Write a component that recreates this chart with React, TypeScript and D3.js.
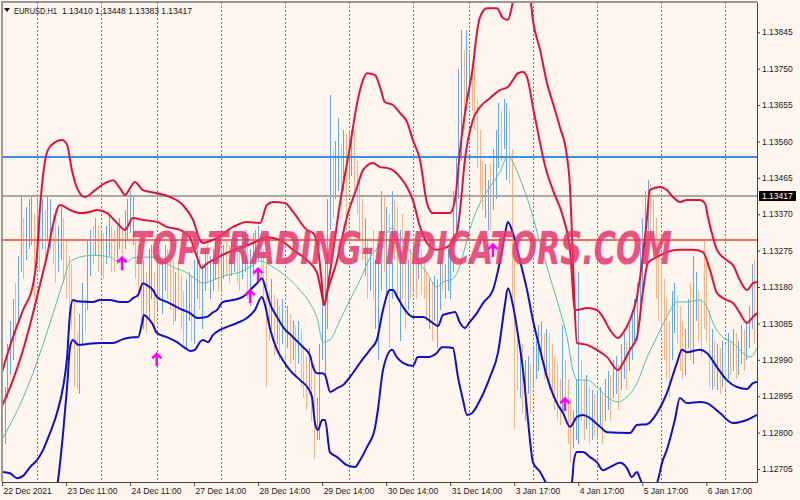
import React, { useEffect, useRef } from "react";
import * as d3 from "d3";

type Pt = [number, number];

// EURUSD H1 bars, one per hour, 22 Dec 2021 11:00 onwards
const barHigh: number[] = [
  // 22 Dec
  1.1289, 1.1292, 1.1303, 1.1309, 1.1315, 1.1319, 1.1326, 1.1342, 1.1336, 1.1339, 1.1341, 1.1342, 1.1337,
  // 23 Dec
  1.1341, 1.1337, 1.1341, 1.1338, 1.1342, 1.1341, 1.1337, 1.1338, 1.1334, 1.1339, 1.1336, 1.133, 1.1326, 1.1324, 1.1315, 1.1306, 1.1311, 1.1319, 1.1315, 1.133, 1.1333, 1.1334, 1.1336, 1.1334,
  // 24 Dec
  1.1333, 1.1332, 1.1334, 1.1337, 1.1334, 1.1333, 1.1334, 1.1336, 1.1333, 1.1338, 1.1341, 1.1343, 1.1342, 1.1333, 1.1329, 1.1326, 1.1325, 1.1322, 1.1328, 1.1329, 1.1322,
  // 27 Dec
  1.1326, 1.1328, 1.1325, 1.1329, 1.1328, 1.1326, 1.1325, 1.1322, 1.1325, 1.1321, 1.1317, 1.132, 1.1322, 1.1321, 1.1325, 1.1328, 1.1326, 1.1324, 1.1328, 1.1329, 1.1326, 1.1328, 1.133, 1.1329,
  // 28 Dec
  1.1328, 1.1329, 1.133, 1.1329, 1.133, 1.1332, 1.133, 1.1329, 1.1332, 1.1333, 1.133, 1.1328, 1.1332, 1.1333, 1.1334, 1.1333, 1.1328, 1.1324, 1.1317, 1.132, 1.1316, 1.1315, 1.1313, 1.1315,
  // 29 Dec
  1.1312, 1.1313, 1.1311, 1.1309, 1.1308, 1.1309, 1.1307, 1.1303, 1.13, 1.1302, 1.1299, 1.1298, 1.1289, 1.1303, 1.1315, 1.1325, 1.1341, 1.1368, 1.1354, 1.1356, 1.1362, 1.1355, 1.1359, 1.1358,
  // 30 Dec
  1.1359, 1.1359, 1.1359, 1.1351, 1.1347, 1.1341, 1.1336, 1.133, 1.1328, 1.1333, 1.1325, 1.1328, 1.1343, 1.1342, 1.1339, 1.1337, 1.1343, 1.1341, 1.1339, 1.1333, 1.1337, 1.133, 1.1325, 1.1328,
  // 31 Dec
  1.1329, 1.1326, 1.133, 1.1328, 1.1325, 1.1322, 1.132, 1.1319, 1.1321, 1.132, 1.1325, 1.1329, 1.1324, 1.1328, 1.133, 1.1343, 1.1352, 1.1375, 1.1385, 1.138, 1.1385,
  // 3 Jan
  1.1379, 1.1377, 1.1376, 1.1367, 1.1359, 1.1351, 1.135, 1.1346, 1.135, 1.1354, 1.1359, 1.1366, 1.1364, 1.1367, 1.1366, 1.1364, 1.1354, 1.1325, 1.1307, 1.1302, 1.1303, 1.1299, 1.13, 1.1298,
  // 4 Jan
  1.1302, 1.1304, 1.1308, 1.1309, 1.1306, 1.1307, 1.1306, 1.1303, 1.13, 1.1298, 1.1294, 1.1308, 1.1299, 1.1294, 1.1289, 1.1286, 1.1294, 1.1322, 1.1299, 1.1294, 1.1295, 1.1292, 1.1291, 1.129,
  // 5 Jan
  1.1291, 1.1292, 1.129, 1.1294, 1.1296, 1.1295, 1.1299, 1.13, 1.1298, 1.1303, 1.1306, 1.1304, 1.1308, 1.1312, 1.1315, 1.1319, 1.1328, 1.1336, 1.1343, 1.1346, 1.1345, 1.1341, 1.1336, 1.133,
  // 6 Jan
  1.1325, 1.132, 1.1315, 1.1309, 1.1317, 1.1319, 1.1316, 1.1313, 1.1309, 1.1307, 1.1315, 1.1319, 1.1326, 1.1322, 1.1317, 1.1315, 1.133, 1.1325, 1.1312, 1.1307, 1.1304, 1.1303, 1.1302, 1.1304,
  // 7 Jan
  1.1303, 1.1306, 1.1304, 1.1307, 1.1306, 1.1304, 1.1308, 1.1307, 1.1309, 1.1313, 1.1324, 1.1325,
];

const barLow: number[] = [
  1.127, 1.1277, 1.1289, 1.1295, 1.1299, 1.1304, 1.1309, 1.1322, 1.132, 1.1325, 1.1328, 1.1329, 1.1315,
  1.1325, 1.1322, 1.1328, 1.1324, 1.133, 1.1328, 1.1324, 1.1319, 1.1322, 1.1325, 1.1319, 1.1315, 1.1312, 1.1307, 1.1292, 1.1291, 1.129, 1.1303, 1.1306, 1.1312, 1.1321, 1.1324, 1.1326, 1.1322,
  1.1321, 1.132, 1.1324, 1.1326, 1.1322, 1.1322, 1.1324, 1.1328, 1.1326, 1.1328, 1.133, 1.1332, 1.1329, 1.132, 1.1315, 1.1309, 1.1307, 1.1306, 1.1309, 1.1315, 1.1306,
  1.1312, 1.1315, 1.1311, 1.1317, 1.1315, 1.1312, 1.1308, 1.1309, 1.1312, 1.1307, 1.1303, 1.1302, 1.1309, 1.1304, 1.1303, 1.1315, 1.1312, 1.1307, 1.1317, 1.1319, 1.1315, 1.1317, 1.132, 1.1317,
  1.1317, 1.132, 1.1321, 1.1319, 1.1321, 1.1322, 1.1319, 1.1317, 1.132, 1.1322, 1.1315, 1.1313, 1.1321, 1.1324, 1.1325, 1.1321, 1.1315, 1.1292, 1.1304, 1.1307, 1.13, 1.1303, 1.1299, 1.1303,
  1.1299, 1.1302, 1.1298, 1.1299, 1.1295, 1.1298, 1.1292, 1.1289, 1.1286, 1.129, 1.1283, 1.1273, 1.1278, 1.1278, 1.1299, 1.1295, 1.1307, 1.1333, 1.1336, 1.1341, 1.1343, 1.1338, 1.1343, 1.1333,
  1.1346, 1.1347, 1.1343, 1.1337, 1.133, 1.1325, 1.1321, 1.1315, 1.1317, 1.1315, 1.1307, 1.1299, 1.1317, 1.1322, 1.1315, 1.1302, 1.1315, 1.1325, 1.1315, 1.1304, 1.1315, 1.1307, 1.1312, 1.1315,
  1.1317, 1.1315, 1.132, 1.1316, 1.1315, 1.1309, 1.1307, 1.1304, 1.1309, 1.1302, 1.1312, 1.1317, 1.1315, 1.1317, 1.1315, 1.1322, 1.1333, 1.1341, 1.1351, 1.1359, 1.1364,
  1.1367, 1.1364, 1.1359, 1.1349, 1.1341, 1.1338, 1.1336, 1.1333, 1.1333, 1.1338, 1.1341, 1.1349, 1.1351, 1.1354, 1.1346, 1.1345, 1.1315, 1.1281, 1.1291, 1.1289, 1.1285, 1.1283, 1.129, 1.1285,
  1.1292, 1.1294, 1.1296, 1.1299, 1.1294, 1.1296, 1.1291, 1.1289, 1.1286, 1.1283, 1.1282, 1.1286, 1.1289, 1.1277, 1.1272, 1.1276, 1.1278, 1.1277, 1.1283, 1.1278, 1.1281, 1.1277, 1.1278, 1.1279,
  1.1278, 1.1282, 1.1277, 1.1283, 1.1286, 1.1283, 1.1289, 1.129, 1.1286, 1.1291, 1.1294, 1.1291, 1.1296, 1.1299, 1.1303, 1.1304, 1.1309, 1.1317, 1.1325, 1.1333, 1.133, 1.1325, 1.1315, 1.1309,
  1.1307, 1.1299, 1.1294, 1.1289, 1.1299, 1.1306, 1.1303, 1.1296, 1.1294, 1.1295, 1.1302, 1.1299, 1.1298, 1.1309, 1.1304, 1.13, 1.1307, 1.1304, 1.1292, 1.1291, 1.1292, 1.1291, 1.129, 1.1292,
  1.1291, 1.1294, 1.1295, 1.1296, 1.1294, 1.1295, 1.1298, 1.1296, 1.1299, 1.1302, 1.1307, 1.1303,
];

// 1 = bull bar, 0 = bear bar
const barUp: number[] = [
  1, 1, 1, 1, 1, 0, 1, 1, 0, 1, 1, 1, 0,
  1, 0, 1, 0, 1, 1, 0, 0, 1, 1, 0, 0, 0, 0, 0, 0, 1, 1, 0, 1, 1, 0, 1, 0,
  1, 0, 1, 1, 0, 0, 1, 1, 0, 1, 1, 1, 1, 0, 0, 0, 1, 0, 1, 1, 0,
  1, 0, 1, 1, 0, 0, 0, 1, 0, 0, 0, 1, 1, 0, 1, 1, 0, 1, 1, 0, 1, 1, 1, 0,
  1, 1, 0, 0, 1, 1, 0, 0, 1, 1, 0, 1, 1, 1, 1, 0, 0, 0, 0, 1, 0, 1, 0, 1,
  0, 1, 0, 1, 0, 1, 0, 0, 0, 1, 0, 0, 1, 1, 1, 1, 1, 1, 0, 1, 1, 0, 1, 0,
  1, 1, 0, 0, 0, 0, 1, 0, 1, 0, 1, 1, 1, 0, 1, 0, 1, 0, 0, 1, 0, 0, 1, 0,
  1, 0, 1, 0, 0, 0, 1, 0, 1, 1, 1, 0, 1, 1, 1, 1, 1, 1, 1, 0, 1,
  1, 0, 0, 0, 0, 0, 1, 1, 0, 1, 1, 1, 0, 1, 1, 0, 0, 0, 0, 1, 0, 1, 1, 0,
  1, 1, 1, 1, 0, 1, 0, 0, 0, 0, 0, 1, 0, 0, 0, 1, 1, 1, 0, 0, 1, 0, 1, 0,
  1, 1, 0, 1, 1, 0, 1, 1, 0, 1, 1, 0, 1, 1, 1, 1, 1, 1, 1, 1, 0, 0, 0, 0,
  0, 0, 0, 0, 1, 1, 0, 0, 0, 1, 1, 0, 1, 1, 0, 0, 0, 0, 0, 1, 0, 1, 0, 1,
  0, 1, 0, 1, 0, 1, 1, 0, 1, 1, 1, 0,
];

// band lines as [bar index, price]
const redOuter: Pt[] = [
  [0, 1.12958], [4.1, 1.13049], [7.9, 1.1312], [11.6, 1.13185], [13.1, 1.13263], [14.2, 1.13381], [15.4, 1.13472], [17.2, 1.13538],
  [19.9, 1.13558], [22.5, 1.13564], [24.4, 1.13551], [26.2, 1.13485], [28.5, 1.13433], [31.1, 1.13415], [34.9, 1.13433], [38.6, 1.13451],
  [41.6, 1.13459], [44.2, 1.13438], [46.1, 1.1342], [48, 1.13438], [49.8, 1.13454], [52.8, 1.13433], [58.1, 1.13425], [63, 1.13415],
  [67.8, 1.13394], [71.6, 1.13355], [74.2, 1.13303], [75.3, 1.13295], [78, 1.133], [80.6, 1.13308], [86.6, 1.13337], [91.8, 1.1335],
  [96.7, 1.13347], [99.3, 1.13394], [101.6, 1.13402], [106.1, 1.13399], [109.1, 1.13376], [114.3, 1.13329], [116.6, 1.13321], [118.4, 1.13282],
  [119.6, 1.13211], [120.7, 1.13133], [122.9, 1.13217], [126.7, 1.13399], [130.4, 1.13545], [133.1, 1.1366], [135.3, 1.1372], [136.8, 1.13738],
  [139.8, 1.13733], [141.7, 1.13702], [143.5, 1.13663], [146.5, 1.13655], [149.2, 1.13634], [151.8, 1.13611], [154, 1.13564], [156.7, 1.13511],
  [159.3, 1.13399], [161.5, 1.13373], [167.9, 1.13373], [169.8, 1.13407], [171.7, 1.13538], [174.3, 1.13668], [176.5, 1.13754], [178, 1.13843],
  [179.2, 1.13885], [181.8, 1.13908], [185.5, 1.13908], [187.8, 1.13882], [189.6, 1.13877], [191.1, 1.13911], [192.5, 1.13968], [195.5, 1.13994],
  [197.9, 1.13942], [199, 1.13877], [201.7, 1.13799], [204.3, 1.13712], [206.5, 1.1366], [209.1, 1.13598], [211.8, 1.13519], [212.9, 1.13441],
  [213.6, 1.13329], [214.4, 1.13172], [215.5, 1.13034], [219.3, 1.13029], [223, 1.13016], [226.8, 1.12997], [230.9, 1.12963], [232.8, 1.12982],
  [235.4, 1.13016], [238, 1.13049], [240.3, 1.13172], [242.1, 1.13243], [245.4, 1.13258], [249.2, 1.13271], [254.1, 1.13277], [259, 1.13277],
  [262.7, 1.13271], [265.4, 1.13224], [268, 1.13164], [271.7, 1.13146], [274, 1.13138], [276.6, 1.13112], [279.2, 1.13086], [281.5, 1.13102],
  [283, 1.13112],
];

const redInner: Pt[] = [
  [0, 1.12869], [4.1, 1.12937], [6.7, 1.12989], [10.5, 1.13081], [14.2, 1.13185], [16.9, 1.13263], [19.1, 1.13342], [21.7, 1.13394],
  [25.5, 1.13381], [29.2, 1.13373], [33, 1.13376], [35.6, 1.13381], [39.4, 1.13373], [43.1, 1.13347], [46.1, 1.13329], [49.1, 1.1336],
  [52.8, 1.13355], [58.1, 1.1335], [61.8, 1.13337], [66.7, 1.13329], [70.5, 1.13308], [73.1, 1.13258], [75, 1.13229], [76.1, 1.13237],
  [79.1, 1.1325], [84.3, 1.13269], [89.2, 1.13282], [94.1, 1.13295], [96.7, 1.13303], [99.3, 1.1331], [104.2, 1.13303], [109.1, 1.13277],
  [115.4, 1.13243], [118.1, 1.13217], [119.9, 1.13159], [120.7, 1.13133], [121.8, 1.13164], [125.6, 1.1325], [129.3, 1.13363], [133.1, 1.13441],
  [135.3, 1.13485], [139, 1.13504], [141.7, 1.13493], [144.3, 1.13491], [146.5, 1.13485], [149.2, 1.13467], [151.8, 1.13441], [154, 1.13407],
  [156.7, 1.13337], [159.3, 1.13295], [163, 1.13277], [166.8, 1.13284], [170.5, 1.13321], [171.7, 1.13381], [173.5, 1.13511], [176.5, 1.13616],
  [179.2, 1.1365], [182.9, 1.13673], [186.6, 1.13694], [189.6, 1.13702], [191.5, 1.1372], [193.4, 1.13738], [195.3, 1.13741], [196.8, 1.13728],
  [197.9, 1.13694], [199, 1.1365], [200.5, 1.13598], [201.7, 1.13556], [203.5, 1.13498], [206.5, 1.13433], [210.3, 1.13363], [212.9, 1.13277],
  [214.8, 1.1312], [215.5, 1.1312], [219.3, 1.13125], [223, 1.1312], [225.2, 1.13102], [227.9, 1.13068], [230.9, 1.13047], [232.8, 1.1306],
  [235.4, 1.13094], [238, 1.13154], [239.9, 1.13243], [241.8, 1.13363], [242.8, 1.13433], [246.6, 1.13441], [249.2, 1.13433], [251.5, 1.13415],
  [254.1, 1.13402], [256.7, 1.13407], [261.6, 1.13407], [263.5, 1.13399], [264.6, 1.13363], [266.5, 1.1331], [268, 1.13277], [271.7, 1.1325],
  [274, 1.13237], [276.6, 1.13198], [279.2, 1.13172], [281.5, 1.1319], [283, 1.13193],
];

const midLine: Pt[] = [
  [0, 1.12783], [3, 1.1282], [6.7, 1.12872], [11.6, 1.12955], [18, 1.13086], [22.9, 1.13193], [25.5, 1.13245], [29.2, 1.13258],
  [34.1, 1.13263], [40.5, 1.13258], [44.2, 1.13245], [46.8, 1.13245], [49.1, 1.13256], [51.7, 1.13258], [56.6, 1.13258], [59.2, 1.1325],
  [64.1, 1.13232], [69.3, 1.13217], [73.1, 1.13198], [75.3, 1.1319], [79.1, 1.13198], [84.3, 1.13211], [89.2, 1.13219], [94.1, 1.13237],
  [96.7, 1.13248], [101.6, 1.13232], [106.8, 1.13206], [111.7, 1.13172], [115.4, 1.13138], [118.1, 1.13099], [120.3, 1.13036], [122.9, 1.13042],
  [126.7, 1.13094], [130.4, 1.13146], [134.2, 1.13198], [137.9, 1.13256], [141.7, 1.1329], [144.3, 1.13321], [146.2, 1.13334], [148, 1.13324],
  [151.8, 1.13284], [155.5, 1.1325], [159.3, 1.13217], [163, 1.1318], [165.3, 1.13193], [169, 1.13201], [171.7, 1.13237], [173.5, 1.13282],
  [175.4, 1.13331], [179.2, 1.13399], [182.9, 1.13441], [186.6, 1.1348], [189.6, 1.13522], [191.5, 1.13506], [194.1, 1.13464], [197.9, 1.13389],
  [201.7, 1.13295], [205.4, 1.13206], [209.1, 1.1312], [211.8, 1.13049], [214, 1.12963], [215.5, 1.12937], [219.3, 1.12937], [223, 1.12919],
  [226.8, 1.12893], [230.9, 1.1288], [234.2, 1.12893], [238, 1.12929], [241.8, 1.12997], [245.4, 1.13049], [249.2, 1.13102], [253, 1.13141],
  [256.7, 1.13141], [261.6, 1.13146], [264.2, 1.13128], [266.5, 1.13086], [270.2, 1.13049], [274, 1.13034], [277.7, 1.13008], [280.4, 1.12997],
  [283, 1.13021],
];

const blueInner: Pt[] = [
  [0, 1.12697], [3, 1.12694], [5.6, 1.12681], [7.9, 1.12687], [10.5, 1.1271], [13.1, 1.12728], [15.4, 1.12755], [18, 1.12799],
  [20.6, 1.12851], [22.9, 1.12919], [24.4, 1.12997], [25.5, 1.13112], [26.6, 1.13146], [28.1, 1.13143], [34.1, 1.13141], [36.7, 1.13146],
  [40.5, 1.13146], [44.2, 1.13141], [47.2, 1.13141], [49.1, 1.13151], [51, 1.13159], [52.8, 1.1319], [54.3, 1.13185], [56.6, 1.13172],
  [58.1, 1.13154], [61.8, 1.13141], [64.1, 1.13133], [67.8, 1.1312], [70.5, 1.13112], [73.1, 1.13099], [76.8, 1.13102], [78.7, 1.13112],
  [80.6, 1.1312], [82.8, 1.13141], [86.6, 1.13146], [90.3, 1.13154], [93, 1.13172], [95.6, 1.1319], [97.4, 1.13203], [99.3, 1.13164],
  [100.4, 1.13138], [103.1, 1.13102], [105.3, 1.13076], [109.1, 1.13049], [112.8, 1.13023], [115.4, 1.13002], [116.6, 1.12971], [118.1, 1.12955],
  [120, 1.12955], [121.1, 1.1295], [123, 1.12906], [125.6, 1.12916], [127.8, 1.12924], [130.4, 1.12945], [134.2, 1.12982], [137.9, 1.13016],
  [140.5, 1.13042], [142.8, 1.1312], [145.4, 1.13172], [146.5, 1.13172], [148.4, 1.13151], [150.3, 1.13128], [154, 1.13102], [157.8, 1.13102],
  [161.5, 1.13086], [163.4, 1.13078], [165.3, 1.13107], [167.9, 1.13112], [169.8, 1.13115], [171.7, 1.13086], [173.5, 1.13073], [175.4, 1.13089],
  [178, 1.13112], [180.3, 1.13138], [184, 1.13172], [186.6, 1.13245], [188.5, 1.13316], [189.6, 1.1335], [191.5, 1.13321], [194.1, 1.1325],
  [196.8, 1.13172], [199, 1.13094], [201.7, 1.13016], [204.3, 1.12945], [208, 1.12877], [210.3, 1.12851], [212.9, 1.12815], [215.5, 1.12841],
  [217.8, 1.12846], [220.4, 1.12838], [224.2, 1.12815], [226.8, 1.12801], [235.4, 1.12799], [238, 1.1282], [241.8, 1.12822], [245.5, 1.12851],
  [249.2, 1.12903], [253, 1.12982], [254.9, 1.13016], [256.7, 1.1301], [261.6, 1.13016], [264.2, 1.13008], [268, 1.12971], [271.7, 1.12937],
  [275.5, 1.12919], [279.2, 1.12914], [281.5, 1.12929], [283, 1.12932],
];

const blueOuter: Pt[] = [
  [14.2, 1.12467], [18.7, 1.12611], [21, 1.12676], [22.9, 1.12799], [24.4, 1.12919], [25.5, 1.13023], [26.6, 1.13042], [28.5, 1.13029],
  [31.9, 1.13031], [36.7, 1.13034], [41.6, 1.13034], [45.4, 1.13044], [49.1, 1.13049], [51, 1.13049], [52.5, 1.13086], [53.2, 1.13107],
  [54.3, 1.13102], [56.2, 1.13086], [58.1, 1.1306], [61.8, 1.13049], [65.6, 1.13036], [68.6, 1.13021], [70.5, 1.13013], [72.3, 1.13016],
  [74.2, 1.13036], [75.3, 1.13042], [77.2, 1.13036], [79.1, 1.13055], [81.7, 1.13068], [84.3, 1.13076], [88.1, 1.13086], [91.8, 1.13099],
  [94.8, 1.1312], [97.4, 1.13154], [98.6, 1.13133], [100.4, 1.13073], [103.1, 1.13016], [105.3, 1.12989], [107.9, 1.12963], [111.7, 1.12937],
  [114.7, 1.12916], [116.2, 1.12893], [117.3, 1.12825], [118.4, 1.12807], [120, 1.12833], [121.1, 1.12833], [122.9, 1.12749], [125.6, 1.12736],
  [129.3, 1.12715], [132.3, 1.1271], [134.2, 1.12728], [136.8, 1.12762], [139.8, 1.12812], [140.9, 1.12859], [142.8, 1.12963], [146.2, 1.13016],
  [148, 1.12997], [150.3, 1.12982], [154, 1.12974], [155.9, 1.12997], [159.3, 1.12997], [163, 1.13008], [164.9, 1.13023], [166.8, 1.13023],
  [169, 1.13021], [170.9, 1.12945], [172.8, 1.12885], [174.3, 1.12846], [176.2, 1.12851], [179.2, 1.12885], [182.9, 1.12945], [185.9, 1.13008],
  [188.5, 1.13133], [189.6, 1.13177], [191.5, 1.13133], [193.4, 1.13055], [195.3, 1.12963], [196.8, 1.12859], [197.9, 1.12781], [199, 1.12723],
  [201.7, 1.12697], [204.3, 1.12663], [207.3, 1.12624], [211, 1.12624], [213.6, 1.12668], [214.4, 1.12728], [215.5, 1.12749], [217.8, 1.12749],
  [220.4, 1.12736], [223, 1.12723], [225.2, 1.12702], [227.9, 1.1271], [231.6, 1.12721], [234.2, 1.12708], [236.1, 1.12684], [238, 1.12697],
  [239.1, 1.12681], [241, 1.1265], [243.6, 1.1265], [245.5, 1.12668], [247.7, 1.12728], [249.2, 1.12755], [252.2, 1.12833], [254.1, 1.1289],
  [256.7, 1.12877], [261.6, 1.1288], [264.2, 1.12877], [269.1, 1.12851], [274, 1.12825], [279.2, 1.12833], [283, 1.12846],
];

// horizontal objects: blue line, bid line, red line
const levelPrices = [1.13519, 1.13417, 1.13302];
const levelColors = ["#3a8ee6", "#a8a8a8", "#f2705a"];

// signal arrows: bar index and tip price
const arrowBars = [45, 58, 93, 96, 184, 211];
const arrowPrices = [1.13258, 1.13007, 1.13172, 1.13229, 1.13292, 1.1289];

const priceTicks = [1.13845, 1.1375, 1.13655, 1.1356, 1.13465, 1.1337, 1.13275, 1.1318, 1.13085, 1.1299, 1.12895, 1.128, 1.12705];
const timeTickBars = [0, 24, 48, 72, 96, 120, 144, 168, 192, 216, 240, 264];
const timeTickLabels = [
  "22 Dec 2021", "23 Dec 11:00", "24 Dec 11:00", "27 Dec 14:00", "28 Dec 14:00", "29 Dec 14:00",
  "30 Dec 14:00", "31 Dec 14:00", "3 Jan 17:00", "4 Jan 17:00", "5 Jan 17:00", "6 Jan 17:00",
];
const daySeparators = [13, 37, 58, 82, 106, 130, 154, 175, 199, 223, 247, 271];

const symbol = "EURUSD,H1";
const ohlc = [1.1341, 1.13448, 1.13383, 1.13417];
const bidPrice = 1.13417;
const watermark = "TOP-TRADING-INDICATORS.COM";

const W = 800;
const H = 500;
const m = { left: 2, right: 757, top: 2, bottom: 482 };
const FONT = "'Liberation Sans', Arial, sans-serif";

const App: React.FC = () => {
  const svgRef = useRef<SVGSVGElement>(null);

  useEffect(() => {
    const svg = d3.select(svgRef.current);
    svg.selectAll("*").remove();

    const x = d3.scaleLinear().domain([0, 283]).range([m.left, m.right]);
    const y = d3.scaleLinear().domain([1.12671, 1.13924]).range([m.bottom, m.top]);
    const px = (v: number) => Math.round(x(v)) + 0.5;

    svg.append("rect").attr("width", W).attr("height", H).attr("fill", "#fdf5ee");

    svg.append("defs").append("clipPath").attr("id", "plot-clip")
      .append("rect")
      .attr("x", m.left).attr("y", m.top)
      .attr("width", m.right - m.left).attr("height", m.bottom - m.top);

    const plot = svg.append("g").attr("clip-path", "url(#plot-clip)");

    // period separators
    plot.append("g").selectAll("line").data(daySeparators).join("line")
      .attr("x1", (d) => px(d)).attr("x2", (d) => px(d))
      .attr("y1", m.top).attr("y2", m.bottom)
      .attr("stroke", "#7a7a7a").attr("stroke-dasharray", "2,2");

    // price bars
    plot.append("g").attr("shape-rendering", "crispEdges")
      .selectAll("line").data(barHigh).join("line")
      .attr("x1", (_, i) => px(i)).attr("x2", (_, i) => px(i))
      .attr("y1", (d) => y(d)).attr("y2", (_, i) => y(barLow[i]))
      .attr("stroke", (_, i) => (barUp[i] ? "#62a8ee" : "#f6b587"));

    // horizontal lines
    plot.append("g").selectAll("line").data(levelPrices).join("line")
      .attr("x1", m.left).attr("x2", m.right)
      .attr("y1", (d) => Math.round(y(d))).attr("y2", (d) => Math.round(y(d)))
      .attr("stroke", (_, i) => levelColors[i]).attr("stroke-width", 2);

    // bands
    const line = d3.line<Pt>().x((d) => x(d[0])).y((d) => y(d[1])).curve(d3.curveMonotoneX);
    const bands = [
      { data: midLine, color: "#4fc0ad", width: 1 },
      { data: redOuter, color: "#dc143c", width: 2 },
      { data: redInner, color: "#dc143c", width: 2 },
      { data: blueInner, color: "#1010c8", width: 2 },
      { data: blueOuter, color: "#1010c8", width: 2 },
    ];
    plot.append("g").selectAll("path").data(bands).join("path")
      .attr("d", (d) => line(d.data))
      .attr("fill", "none")
      .attr("stroke", (d) => d.color)
      .attr("stroke-width", (d) => d.width)
      .attr("stroke-linejoin", "round");

    // arrows
    plot.append("g").selectAll("path").data(arrowBars).join("path")
      .attr("transform", (d, i) => `translate(${x(d)},${y(arrowPrices[i])})`)
      .attr("d", "M-4.5,5L0,0.5L4.5,5M0,1V13")
      .attr("fill", "none").attr("stroke", "#ff00ff").attr("stroke-width", 2.5);

    // frame
    svg.append("path")
      .attr("d", `M${m.left},${m.bottom}V${m.top}H${m.right}`)
      .attr("fill", "none").attr("stroke", "#999").attr("stroke-width", 2);

    // price axis
    const yAxis = d3.axisRight(y).tickValues(priceTicks).tickFormat(d3.format(".5f"))
      .tickSize(3).tickSizeOuter(0).tickPadding(2);
    const gy = svg.append("g").attr("transform", `translate(${m.right},0)`).call(yAxis);
    gy.attr("font-family", FONT).attr("font-size", 8.5);
    gy.select(".domain").attr("stroke", "#444");
    gy.selectAll(".tick line").attr("stroke", "#444");
    gy.selectAll(".tick text").attr("fill", "#1a1a1a");

    // time axis
    const xAxis = d3.axisBottom(x).tickValues(timeTickBars)
      .tickFormat((_, i) => timeTickLabels[i]).tickSize(4).tickSizeOuter(0).tickPadding(2);
    const gx = svg.append("g").attr("transform", `translate(0,${m.bottom})`).call(xAxis);
    gx.attr("font-family", FONT).attr("font-size", 8.5);
    gx.select(".domain").attr("stroke", "#444");
    gx.selectAll(".tick line").attr("stroke", "#444");
    gx.selectAll(".tick text").attr("fill", "#1a1a1a").attr("text-anchor", "start").attr("x", 1);

    // bid label
    const by = Math.round(y(bidPrice));
    svg.append("rect").attr("x", m.right + 2).attr("y", by - 5).attr("width", 37).attr("height", 10).attr("fill", "#000");
    svg.append("text").attr("x", m.right + 5).attr("y", by).attr("dy", "0.35em")
      .attr("font-family", FONT).attr("font-size", 8.5).attr("fill", "#fff")
      .text(d3.format(".5f")(bidPrice));

    // header
    svg.append("path").attr("d", "M4,8H10L7,12Z").attr("fill", "#111");
    const head = svg.append("g").attr("font-family", FONT).attr("font-size", 8.5).attr("fill", "#111");
    head.append("text").attr("x", 14).attr("y", 14)
      .attr("textLength", 43).attr("lengthAdjust", "spacingAndGlyphs").text(symbol);
    head.append("text").attr("x", 62).attr("y", 14)
      .text(ohlc.map((v) => d3.format(".5f")(v)).join(" "));

    // watermark
    svg.append("text")
      .attr("transform", "translate(131,264) scale(0.69,1)")
      .attr("font-family", "'DejaVu Sans', sans-serif")
      .attr("font-weight", "bold").attr("font-style", "italic")
      .attr("font-size", 44)
      .attr("fill", "#e5386f").attr("opacity", 0.85)
      .text(watermark);

    return () => {
      svg.selectAll("*").remove();
    };
  }, []);

  return <svg ref={svgRef} width={W} height={H} style={{ position: "absolute", left: 0, top: 0 }} />;
};

export default App;
